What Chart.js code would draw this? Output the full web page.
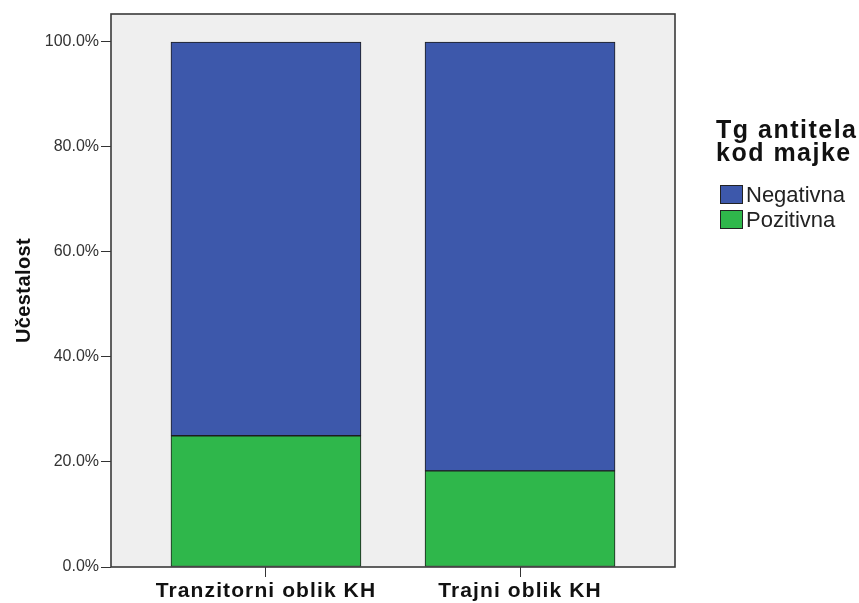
<!DOCTYPE html>
<html>
<head>
<meta charset="utf-8">
<script src="https://cdn.jsdelivr.net/npm/chart.js@4"></script>
<style>
  html, body { margin: 0; padding: 0; background: #ffffff; }
  #wrap { width: 859px; height: 603px; }
</style>
</head>
<body>
<div id="wrap"><canvas id="c" width="859" height="603"></canvas></div>
<script>
// Share of maternal Tg antibody result within each form of hypothyroidism (%)
const categories = ['Tranzitorni oblik KH', 'Trajni oblik KH'];
const seriesNames = ['Pozitivna', 'Negativna'];
const pozitivna = [25.0, 18.3];
const negativna = [75.0, 81.7];
const yTicks = [0, 20, 40, 60, 80, 100];
const yTitle = 'Učestalost';
const legendTitle = ['Tg antitela', 'kod majke'];
const legendOrder = ['Negativna', 'Pozitivna'];

const colors = { 'Negativna': '#3d58ab', 'Pozitivna': '#2fb74b' };
const FONT = '"Liberation Sans", Arial, sans-serif';

const toPoints = arr => arr.map((v, i) => ({ x: i, y: v }));

// Draw a scale's labels / title with a little extra tracking for the bold text
function withSpacing(scale, method, spacing) {
  const orig = scale[method];
  scale[method] = function (...args) {
    const ctx = this.ctx;
    ctx.save();
    ctx.letterSpacing = spacing;
    orig.apply(this, args);
    ctx.restore();
  };
}

const textTracking = {
  id: 'textTracking',
  afterLayout(chart) {
    if (chart.$tracked) return;
    chart.$tracked = true;
    withSpacing(chart.scales.x, 'drawLabels', '1.1px');
    withSpacing(chart.scales.y, 'drawTitle', '0.4px');
  }
};

const plotFrame = {
  id: 'plotFrame',
  beforeDatasetsDraw(chart) {
    const a = chart.chartArea, ctx = chart.ctx;
    ctx.save();
    ctx.fillStyle = '#efefef';
    ctx.fillRect(a.left, a.top, a.right - a.left, a.bottom - a.top);
    ctx.restore();
  },
  afterDatasetsDraw(chart) {
    const a = chart.chartArea, ctx = chart.ctx;
    ctx.save();
    ctx.strokeStyle = '#3a3a3a';
    ctx.lineWidth = 1.6;
    ctx.strokeRect(a.left, a.top, a.right - a.left, a.bottom - a.top);
    ctx.restore();
  }
};

const sideLegend = {
  id: 'sideLegend',
  afterDraw(chart) {
    const ctx = chart.ctx;
    ctx.save();
    ctx.fillStyle = '#111';
    ctx.textBaseline = 'alphabetic';
    ctx.textAlign = 'left';
    ctx.font = 'bold 25px ' + FONT;
    ctx.letterSpacing = '1.5px';
    legendTitle.forEach((t, i) => ctx.fillText(t, 716, 138 + i * 23));
    ctx.letterSpacing = '0px';
    ctx.font = '22px ' + FONT;
    legendOrder.forEach((name, i) => {
      const y = 185 + i * 25;
      ctx.fillStyle = colors[name];
      ctx.fillRect(720, y, 23, 19);
      ctx.strokeStyle = '#222';
      ctx.lineWidth = 1;
      ctx.strokeRect(720.5, y + 0.5, 22, 18);
      ctx.fillStyle = '#222';
      ctx.fillText(name, 746, y + 17);
    });
    ctx.restore();
  }
};

new Chart(document.getElementById('c'), {
  type: 'bar',
  data: {
    datasets: [
      { label: seriesNames[0], data: toPoints(pozitivna), backgroundColor: colors['Pozitivna'] },
      { label: seriesNames[1], data: toPoints(negativna), backgroundColor: colors['Negativna'] }
    ].map(d => Object.assign(d, {
      borderColor: '#1e1e1e', borderWidth: 1, borderSkipped: false,
      barThickness: 190, grouped: false
    }))
  },
  options: {
    responsive: false,
    animation: false,
    devicePixelRatio: 1,
    layout: { padding: { top: 14, right: 184, left: 0, bottom: 0 } },
    plugins: { legend: { display: false }, tooltip: { enabled: false } },
    scales: {
      x: {
        type: 'linear',
        offset: false,
        min: -0.61,
        max: 1.61,
        afterBuildTicks: s => { s.ticks = categories.map((_, i) => ({ value: i })); },
        afterFit: s => { s.height = 36; },
        border: { display: false },
        grid: { offset: false, drawOnChartArea: false, drawTicks: true, tickLength: 10, color: '#333', lineWidth: 1 },
        ticks: {
          autoSkip: false, maxRotation: 0, padding: 2, color: '#111',
          font: { family: FONT, size: 21, weight: 'bold' },
          callback: v => categories[v]
        }
      },
      y: {
        stacked: true,
        min: 0,
        max: 105.33,
        afterBuildTicks: s => { s.ticks = yTicks.map(v => ({ value: v })); },
        afterFit: s => { s.width = 111; },
        border: { display: false },
        grid: { drawOnChartArea: false, drawTicks: true, tickLength: 10, color: '#333', lineWidth: 1 },
        ticks: {
          padding: 2, color: '#333',
          font: { family: FONT, size: 16 },
          callback: v => v.toFixed(1) + '%'
        },
        title: {
          display: true, text: yTitle, color: '#111',
          font: { family: FONT, size: 20, weight: 'bold' },
          padding: { top: 12, bottom: 0 }
        }
      }
    }
  },
  plugins: [textTracking, plotFrame, sideLegend]
});
</script>
</body>
</html>
